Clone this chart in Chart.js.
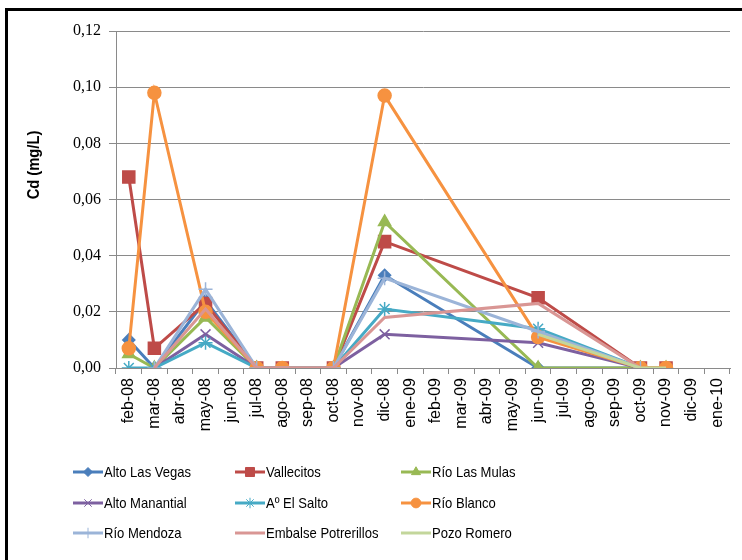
<!DOCTYPE html>
<html>
<head>
<meta charset="utf-8">
<script src="https://cdn.jsdelivr.net/npm/chart.js@4.4.1/dist/chart.umd.min.js"></script>
<style>
  html, body { margin: 0; padding: 0; background: #fff; overflow: hidden; }
  #wrap { position: relative; width: 742px; height: 560px; }
  #frame { position: absolute; left: 5px; top: 8px; width: 800px; height: 600px; border: 3px solid #000; }
  canvas { position: absolute; left: 0; top: 0; }
</style>
</head>
<body>
<div id="wrap">
  <div id="frame"></div>
  <canvas id="cdChart" width="742" height="560"></canvas>
</div>
<script>
// months on the x axis
const months = ['feb-08','mar-08','abr-08','may-08','jun-08','jul-08','ago-08','sep-08','oct-08','nov-08','dic-08','ene-09',
                'feb-09','mar-09','abr-09','may-09','jun-09','jul-09','ago-09','sep-09','oct-09','nov-09','dic-09','ene-10'];

// Cd (mg/L) per site, null = no sample that month
const altoLasVegas     = [0.010, 0, null, 0.024, null, 0, null, null, 0, null, 0.033, null, null, null, null, null, 0, null, null, null, 0, null, null, null];
const vallecitos       = [0.068, 0.007, null, 0.023, null, 0, 0, null, 0, null, 0.045, null, null, null, null, null, 0.025, null, null, null, 0, 0, null, null];
const rioLasMulas      = [0.005, 0, null, 0.018, null, 0, null, null, 0, null, 0.052, null, null, null, null, null, 0, null, null, null, 0, 0, null, null];
const altoManantial    = [null, 0, null, 0.012, null, 0, null, null, 0, null, 0.012, null, null, null, null, null, 0.009, null, null, null, 0, null, null, null];
const aoElSalto        = [0, 0, null, 0.009, null, 0, null, null, 0, null, 0.021, null, null, null, null, null, 0.014, null, null, null, 0, null, null, null];
const rioBlanco        = [0.007, 0.098, null, 0.020, null, 0, 0, null, 0, null, 0.097, null, null, null, null, null, 0.011, null, null, null, 0, 0, null, null];
const rioMendoza       = [null, 0, null, 0.028, null, 0, null, null, 0, null, 0.032, null, null, null, null, null, 0.013, null, null, null, 0, null, null, null];
const embalsePotrerillos = [null, 0, null, 0.021, null, 0, 0, null, 0, null, 0.018, null, null, null, null, null, 0.023, null, null, null, 0, null, null, null];
const pozoRomero       = [null, null, null, null, null, null, null, null, null, null, null, null, null, null, null, null, 0.012, null, null, null, 0, 0, null, null];

const yTicks = [0, 0.02, 0.04, 0.06, 0.08, 0.10, 0.12];

const series = [
  { label: 'Alto Las Vegas', data: altoLasVegas, color: '#4A7EBB', style: 'rectRot', r: 6 },
  { label: 'Vallecitos', data: vallecitos, color: '#BE4B48', style: 'rect', r: 8.5 },
  { label: 'Río Las Mulas', data: rioLasMulas, color: '#98B954', style: 'triangle', r: 7 },
  { label: 'Alto Manantial', data: altoManantial, color: '#7D60A0', style: 'crossRot', r: 7 },
  { label: 'Aº El Salto', data: aoElSalto, color: '#46AAC5', style: 'star', r: 7 },
  { label: 'Río Blanco', data: rioBlanco, color: '#F69240', style: 'circle', r: 6.5 },
  { label: 'Río Mendoza', data: rioMendoza, color: '#9BB4D8', style: 'cross', r: 7 },
  { label: 'Embalse Potrerillos', data: embalsePotrerillos, color: '#D99694', style: false, r: 0 },
  { label: 'Pozo Romero', data: pozoRomero, color: '#C3D69B', style: false, r: 0 }
];

const GRID = '#8a8a8a';
const SANS = '"Liberation Sans", sans-serif';

// legend + axis title drawn on the canvas
const extras = {
  id: 'extras',
  afterDraw(chart) {
    const ctx = chart.ctx;
    ctx.save();
    // y title
    ctx.translate(35, 165);
    ctx.rotate(-Math.PI / 2);
    ctx.scale(0.92, 1);
    ctx.font = 'bold 16px ' + SANS;
    ctx.fillStyle = '#000';
    ctx.textAlign = 'center';
    ctx.textBaseline = 'middle';
    ctx.fillText('Cd (mg/L)', 0, 0);
    ctx.restore();

    const colX = [73, 235, 401];
    const rowY = [472, 503, 533];
    chart.data.datasets.forEach((ds, i) => {
      const x = colX[i % 3], y = rowY[Math.floor(i / 3)];
      ctx.save();
      ctx.strokeStyle = ds.borderColor;
      ctx.lineWidth = 3;
      ctx.beginPath();
      ctx.moveTo(x, y);
      ctx.lineTo(x + 30, y);
      ctx.stroke();
      if (ds.pointStyle) {
        ctx.fillStyle = ds.borderColor;
        ctx.strokeStyle = ds.borderColor;
        ctx.lineWidth = 1;
        Chart.helpers.drawPoint(ctx, { pointStyle: ds.pointStyle, radius: ds.pointRadius * 0.75, rotation: 0, borderWidth: 1 }, x + 15, y);
      }
      // narrow text, like the original's Calibri
      ctx.translate(x + 31, y + 1);
      ctx.scale(0.87, 1);
      ctx.fillStyle = '#000';
      ctx.font = '15px ' + SANS;
      ctx.textBaseline = 'middle';
      ctx.textAlign = 'left';
      ctx.fillText(ds.label, 0, 0);
      ctx.restore();
    });
  }
};

new Chart(document.getElementById('cdChart').getContext('2d'), {
  type: 'line',
  data: {
    labels: months,
    datasets: series.map((s, i) => ({
      label: s.label,
      data: s.data,
      borderColor: s.color,
      backgroundColor: s.color,
      pointBorderColor: s.color,
      pointBackgroundColor: s.color,
      pointStyle: s.style,
      pointRadius: s.r,
      pointBorderWidth: 1.5,
      borderWidth: 3,
      spanGaps: true,
      tension: 0,
      order: series.length - i
    }))
  },
  options: {
    responsive: false,
    animation: false,
    layout: { padding: { top: 31, right: 12, bottom: 0, left: 0 } },
    plugins: { legend: { display: false }, tooltip: { enabled: false } },
    scales: {
      x: {
        offset: true,
        afterFit: s => { s.height = 192; },
        grid: { offset: true, drawOnChartArea: false, drawTicks: true, tickLength: 6, color: GRID },
        border: { color: GRID },
        ticks: {
          autoSkip: false, minRotation: 90, maxRotation: 90, padding: 4,
          color: '#000', font: { family: SANS, size: 16 }
        }
      },
      y: {
        min: 0, max: 0.12,
        afterFit: s => { s.width = 116; },
        afterBuildTicks: s => { s.ticks = yTicks.map(v => ({ value: v })); },
        grid: { color: GRID, tickLength: 7 },
        border: { color: GRID },
        ticks: {
          padding: 8, color: '#000',
          font: { family: '"Liberation Serif", serif', size: 16 },
          callback: v => v.toFixed(2).replace('.', ',')
        }
      }
    }
  },
  plugins: [extras]
});
</script>
</body>
</html>
